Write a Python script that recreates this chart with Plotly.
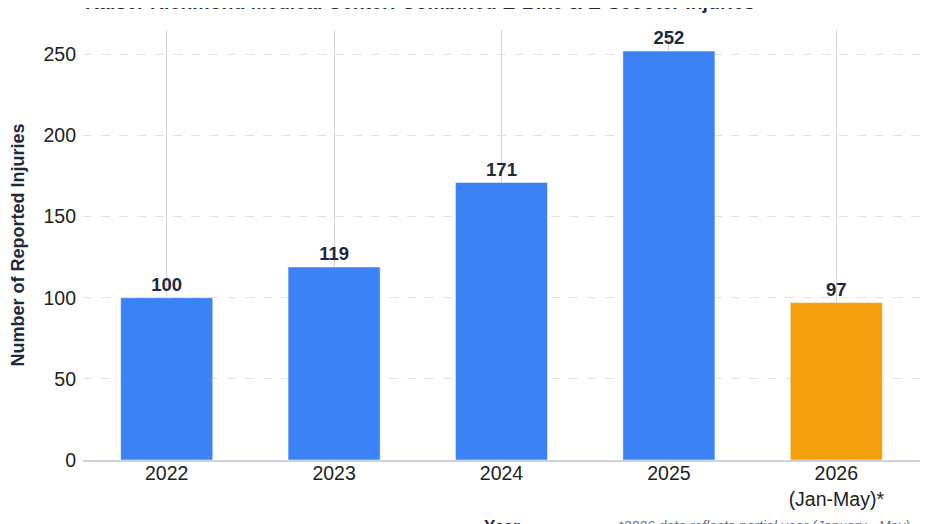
import plotly.graph_objects as go

# data
years = ["2022", "2023", "2024", "2025", "2026<br>(Jan-May)*"]
injuries = [100, 119, 171, 252, 97]
bar_colors = ["#3b82f6", "#3b82f6", "#3b82f6", "#3b82f6", "#f59e0b"]

title_text = "Kaiser Richmond Medical Center: Combined E-Bike & E-Scooter Injuries"
note_text = "*2026 data reflects partial year (January - May)"

FONT = "Liberation Sans, Arial, sans-serif"
NAVY = "#1e293b"

fig = go.Figure()
fig.add_trace(go.Bar(
    x=years,
    y=injuries,
    marker=dict(color=bar_colors, line=dict(color="rgba(255,255,255,0.5)", width=1)),
    width=0.55,
    text=injuries,
    textposition="outside",
    textfont=dict(family=FONT, size=18.5, color=NAVY, weight="bold"),
    cliponaxis=False,
    hoverinfo="x+y",
))

fig.update_layout(
    width=932,
    height=524,
    margin=dict(l=75, r=20, t=22, b=72, autoexpand=False),
    plot_bgcolor="white",
    paper_bgcolor="white",
    font=dict(family=FONT, color="#222222"),
    showlegend=False,
    xaxis=dict(
        showgrid=True,
        gridcolor="#d4d4d4",
        gridwidth=1,
        showline=True,
        linecolor="#cbd5e1",
        linewidth=1.5,
        ticklabelstandoff=-5,
        tickfont=dict(size=19.5, color="#222222"),
        automargin=False,
    ),
    yaxis=dict(
        range=[0, 265],
        dtick=50,
        showgrid=True,
        gridcolor="#e2e2e2",
        griddash="dash",
        zeroline=False,
        showline=False,
        ticks="",
        ticklabelstandoff=6,
        tickfont=dict(size=19.5, color="#222222"),
        title=dict(text="Number of Reported Injuries", font=dict(size=18, color=NAVY, weight="bold"), standoff=14),
        automargin=False,
    ),
)

# chart title, mostly above the visible page as in the reference
fig.add_annotation(
    text=title_text,
    xref="paper", yref="paper",
    x=0, y=1.066,
    xanchor="left", yanchor="middle",
    showarrow=False,
    font=dict(family=FONT, size=19.5, color=NAVY, weight="bold"),
)

# x axis title
fig.add_annotation(
    text="Year",
    xref="paper", yref="paper",
    x=0.5, y=-0.154,
    xanchor="center", yanchor="middle",
    showarrow=False,
    font=dict(family=FONT, size=17, color=NAVY, weight="bold"),
)

fig.add_annotation(
    text=note_text,
    xref="paper", yref="paper",
    x=1, y=-0.154,
    xanchor="right", yanchor="middle",
    xshift=-8,
    showarrow=False,
    font=dict(family=FONT, size=14, color="#64748b", style="italic"),
)

fig.write_html("out.html")
